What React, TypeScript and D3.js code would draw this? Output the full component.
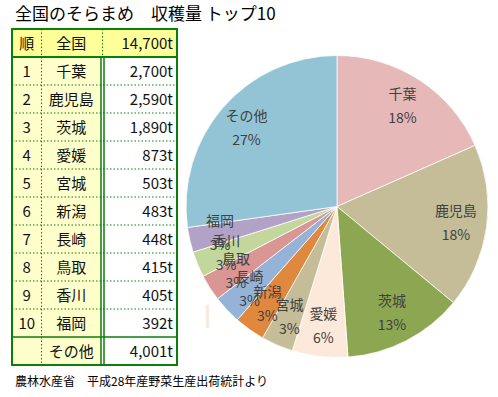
import * as React from 'react';
import * as d3 from 'd3';

const prefectures = ['千葉', '鹿児島', '茨城', '愛媛', '宮城', '新潟', '長崎', '鳥取', '香川', '福岡'];
const harvest = [2700, 2590, 1890, 873, 503, 483, 448, 415, 405, 392];
const otherLabel = 'その他';
const otherValue = 4001;
const totalValue = 14700;
const sliceColors = ['#e6b9b8', '#c4bd97', '#8ca651', '#fde9d9', '#c4bd97', '#e0883d', '#95b3d7', '#d99694', '#c3d69b', '#b2a2c7', '#93c4d6'];

const W = 498;
const H = 397;
const FONT = '"Noto Sans CJK JP", "Noto Sans", sans-serif';
const GREEN = '#0a7f0a';

const App = () => {
  const slices = prefectures.map((name, i) => ({ name, value: harvest[i] }))
    .concat([{ name: otherLabel, value: otherValue }]);
  const sum = d3.sum(slices, (d) => d.value);

  const cx = 337;
  const cy = 206.5;
  const r = 151;
  const pie = d3.pie<any>().value((d) => d.value).sort(null);
  const arcs = pie(slices);
  const arc = d3.arc<any>().innerRadius(0).outerRadius(r);
  const labelArc = d3.arc<any>().innerRadius(120).outerRadius(120);
  const fmt = d3.format(',');

  // table layout
  const tx = 12;
  const tRight = 177;
  const ty = 29;
  const rowH = 28;
  const c1 = 41.5;
  const c2 = 101;
  const c3 = 104;
  const rows = [
    { rank: '順', name: '全国', value: totalValue },
    ...prefectures.map((name, i) => ({ rank: String(i + 1), name, value: harvest[i] })),
    { rank: '', name: otherLabel, value: otherValue },
  ];
  const tBottom = ty + rows.length * rowH;

  return (
    <div style={{ position: 'absolute', left: 0, top: 0 }}>
      <svg width={W} height={H} style={{ display: 'block', background: '#fff' }}>
        <text x={15} y={20} fontSize={17} fontFamily={FONT} fill="#000">全国のそらまめ　収穫量 トップ10</text>

        {/* table backgrounds */}
        {rows.map((row, i) => {
          const y = ty + i * rowH;
          if (i === 0) return <rect key={i} x={tx} y={y} width={tRight - tx} height={rowH} fill="#ffff99" />;
          return (
            <g key={i}>
              <rect x={tx} y={y} width={c2 - tx} height={rowH} fill="#ffffcc" />
              <rect x={c3} y={y} width={tRight - c3} height={rowH} fill="#fff" />
            </g>
          );
        })}
        {/* dotted row separators */}
        {rows.map((row, i) => (i > 1 && i < rows.length - 1 ? (
          <line key={i} x1={tx} x2={tRight} y1={ty + i * rowH} y2={ty + i * rowH} stroke={GREEN} strokeDasharray="1.5,2" strokeWidth={1} />
        ) : null))}
        <line x1={c1} x2={c1} y1={ty} y2={tBottom} stroke={GREEN} strokeDasharray="1.5,2" strokeWidth={1} />
        <line x1={102.5} x2={102.5} y1={ty} y2={ty + rowH} stroke={GREEN} strokeDasharray="1.5,2" strokeWidth={1} />
        <line x1={c2} x2={c2} y1={ty + rowH} y2={tBottom} stroke={GREEN} strokeWidth={1.5} />
        <line x1={c3} x2={c3} y1={ty + rowH} y2={tBottom} stroke={GREEN} strokeWidth={1.5} />
        <line x1={tx} x2={tRight} y1={ty + rowH} y2={ty + rowH} stroke={GREEN} strokeWidth={2} />
        <line x1={tx} x2={tRight} y1={tBottom - rowH} y2={tBottom - rowH} stroke={GREEN} strokeWidth={1.5} />
        <rect x={tx} y={ty} width={tRight - tx} height={tBottom - ty} fill="none" stroke={GREEN} strokeWidth={2} />

        {rows.map((row, i) => {
          const y = ty + i * rowH + rowH / 2 + 5.5;
          return (
            <g key={i} fontFamily={FONT} fontSize={15} fill="#111">
              <text x={(tx + c1) / 2} y={y} textAnchor="middle">{row.rank}</text>
              <text x={(c1 + c2) / 2} y={y} textAnchor="middle">{row.name}</text>
              <text x={173} y={y} textAnchor="end">{fmt(row.value)}t</text>
            </g>
          );
        })}

        <text x={15} y={386} fontSize={12} fontFamily={FONT} fill="#000">農林水産省　平成28年産野菜生産出荷統計より</text>

        {/* pie */}
        <g transform={`translate(${cx},${cy})`}>
          {arcs.map((a, i) => (
            <path key={i} d={arc(a) as string} fill={sliceColors[i]} stroke="#fff" strokeWidth={0.75} />
          ))}
          {arcs.map((a, i) => {
            const [lx, ly] = labelArc.centroid(a);
            return (
              <g key={i} fontFamily={FONT} fontSize={14} fill="#404040" textAnchor="middle">
                <text x={lx} y={ly - 7}>{a.data.name}</text>
                <text x={lx} y={ly + 17}>{Math.round((a.data.value / sum) * 100)}%</text>
              </g>
            );
          })}
        </g>
        <rect x={206} y={305} width={3} height={23} fill="#fde9d9" />
      </svg>
    </div>
  );
};

export default App;
